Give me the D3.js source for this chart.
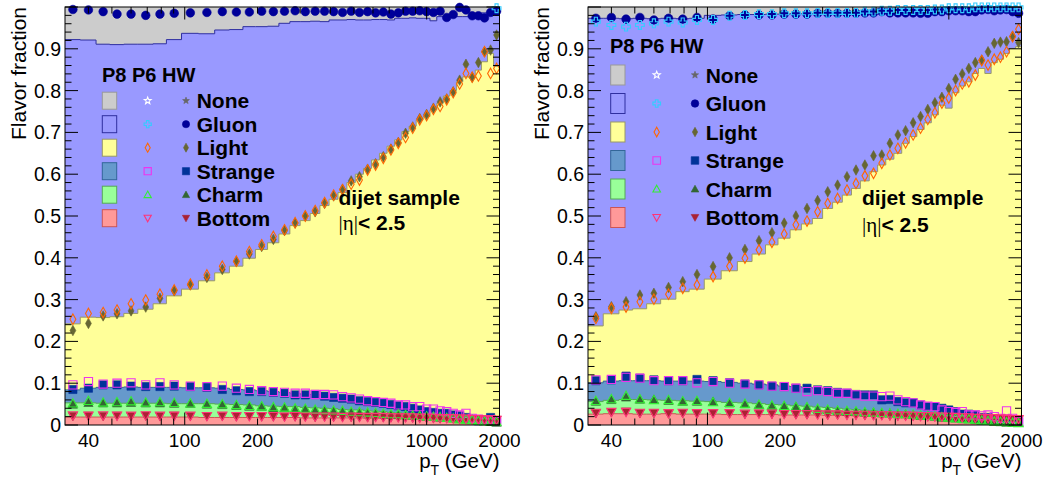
<!DOCTYPE html>
<html><head><meta charset="utf-8">
<script src="https://cdn.jsdelivr.net/npm/d3@7"></script>
<style>body{margin:0;background:#fff}svg{display:block}</style>
</head><body><svg id="chart" width="1051" height="477"></svg>
<script>
// pT bin edges (GeV)
const ptEdges = [32,37,43,49,56,64,74,84,97,114,133,153,174,196,220,245,272,300,330,362,395,430,468,507,548,592,638,686,737,790,846,905,967,1032,1101,1172,1248,1327,1410,1497,1588,1684,1784,1890,2000];
const yTickValues = [0,0.1,0.2,0.3,0.4,0.5,0.6,0.7,0.8,0.9];
const xTickLabels = [40,100,200,1000,2000];
const flavorNames = ["None","Gluon","Light","Strange","Charm","Bottom"];
const headerText = "P8 P6 HW";

// Cumulative flavour fractions, left sample. P8 = stacked histogram, P6/HW = markers.
const leftP8Gluon = [0.922,0.921,0.911,0.910,0.911,0.911,0.912,0.922,0.937,0.936,0.945,0.946,0.953,0.953,0.954,0.961,0.965,0.965,0.966,0.965,0.969,0.969,0.970,0.969,0.969,0.970,0.970,0.969,0.973,0.973,0.974,0.973,0.973,0.967,0.977,0.977,0.978,0.977,0.977,0.985,0.985,0.986,0.985,0.985];
const leftP8Light = [0.242,0.258,0.257,0.259,0.267,0.277,0.290,0.309,0.325,0.345,0.364,0.380,0.399,0.420,0.436,0.457,0.477,0.489,0.506,0.525,0.540,0.556,0.580,0.600,0.614,0.634,0.650,0.667,0.682,0.702,0.715,0.730,0.738,0.754,0.770,0.787,0.800,0.821,0.833,0.830,0.849,0.869,0.889,0.858];
const leftP8Strange = [0.084,0.088,0.090,0.090,0.091,0.090,0.090,0.090,0.089,0.089,0.088,0.085,0.084,0.082,0.080,0.078,0.076,0.074,0.073,0.070,0.068,0.065,0.063,0.061,0.058,0.056,0.053,0.051,0.048,0.046,0.042,0.040,0.037,0.034,0.031,0.029,0.026,0.023,0.020,0.018,0.015,0.013,0.010,0.009];
const leftP8Charm = [0.053,0.053,0.052,0.052,0.052,0.052,0.052,0.051,0.051,0.051,0.050,0.049,0.048,0.046,0.045,0.044,0.044,0.042,0.041,0.040,0.039,0.037,0.036,0.036,0.034,0.033,0.032,0.030,0.029,0.028,0.027,0.026,0.025,0.024,0.022,0.021,0.019,0.018,0.016,0.015,0.014,0.012,0.011,0.010];
const leftP8Bottom = [0.019,0.019,0.019,0.019,0.019,0.019,0.019,0.019,0.019,0.018,0.018,0.018,0.018,0.018,0.018,0.018,0.018,0.017,0.017,0.017,0.017,0.017,0.017,0.017,0.016,0.016,0.016,0.016,0.016,0.015,0.015,0.015,0.015,0.014,0.014,0.014,0.013,0.013,0.013,0.012,0.012,0.012,0.011,0.011];

const leftP6Gluon = [1,1,1,1,1,1,1,1,1,1,1,1,1,1,1,1,1,1,1,1,1,1,1,1,1,1,1,1,1,1,1,1,1,1,1,1,1,1,1,1,1,1,1,0.997];
const leftP6Light = [0.253,0.267,0.269,0.275,0.290,0.299,0.313,0.323,0.337,0.359,0.380,0.392,0.415,0.431,0.451,0.467,0.484,0.500,0.513,0.532,0.550,0.563,0.576,0.586,0.610,0.622,0.638,0.658,0.674,0.688,0.710,0.730,0.740,0.755,0.762,0.778,0.795,0.816,0.841,0.832,0.835,0.893,0.841,0.853];
const leftP6Strange = [0.096,0.104,0.098,0.100,0.101,0.096,0.101,0.096,0.093,0.092,0.093,0.088,0.085,0.082,0.080,0.078,0.076,0.076,0.073,0.073,0.072,0.068,0.065,0.062,0.058,0.056,0.054,0.052,0.048,0.048,0.044,0.044,0.038,0.038,0.034,0.032,0.028,0.024,0.028,0.016,0.014,0.012,0.012,0.008];
const leftP6Charm = [0.052,0.058,0.054,0.055,0.057,0.054,0.055,0.053,0.052,0.051,0.050,0.048,0.046,0.045,0.043,0.042,0.040,0.039,0.037,0.036,0.035,0.034,0.032,0.031,0.030,0.029,0.027,0.026,0.026,0.024,0.023,0.022,0.021,0.020,0.019,0.017,0.016,0.014,0.013,0.012,0.010,0.009,0.008,0.007];
const leftP6Bottom = [0.023,0.022,0.023,0.022,0.022,0.023,0.022,0.022,0.022,0.021,0.022,0.021,0.021,0.021,0.021,0.020,0.021,0.020,0.020,0.020,0.020,0.019,0.020,0.019,0.019,0.019,0.019,0.018,0.018,0.018,0.018,0.017,0.017,0.017,0.016,0.016,0.016,0.015,0.015,0.014,0.014,0.013,0.013,0.012];

const leftHWGluon = [0.994,0.993,0.989,0.983,0.983,0.980,0.983,0.985,0.986,0.987,0.989,0.988,0.988,0.990,0.989,0.990,0.991,0.989,0.990,0.990,0.989,0.987,0.990,0.987,0.989,0.986,0.988,0.983,0.986,0.990,0.990,0.991,0.989,0.987,0.990,0.975,0.982,0.999,0.993,0.979,0.979,0.974,0.987,0.990];
const leftHWLight = [0.226,0.243,0.261,0.266,0.273,0.282,0.303,0.321,0.335,0.353,0.372,0.391,0.409,0.427,0.444,0.465,0.483,0.500,0.510,0.530,0.548,0.564,0.584,0.594,0.612,0.625,0.642,0.660,0.676,0.698,0.713,0.733,0.743,0.758,0.773,0.780,0.797,0.825,0.863,0.832,0.867,0.893,0.897,0.933];
const leftHWStrange = [0.085,0.088,0.096,0.096,0.093,0.092,0.092,0.093,0.092,0.090,0.085,0.082,0.080,0.080,0.078,0.076,0.072,0.072,0.073,0.069,0.066,0.064,0.062,0.058,0.056,0.054,0.052,0.049,0.046,0.044,0.040,0.036,0.032,0.030,0.028,0.028,0.024,0.022,0.018,0.014,0.010,0.012,0.018,0.008];
const leftHWCharm = [0.049,0.053,0.052,0.052,0.053,0.052,0.052,0.051,0.051,0.049,0.048,0.046,0.044,0.044,0.040,0.041,0.036,0.038,0.034,0.034,0.032,0.032,0.030,0.030,0.028,0.028,0.026,0.025,0.024,0.024,0.022,0.022,0.020,0.020,0.018,0.018,0.016,0.015,0.014,0.012,0.010,0.010,0.008,0.006];
const leftHWBottom = [0.021,0.022,0.021,0.022,0.021,0.022,0.021,0.022,0.021,0.021,0.021,0.020,0.021,0.020,0.020,0.020,0.020,0.020,0.019,0.020,0.019,0.019,0.019,0.019,0.018,0.019,0.018,0.018,0.018,0.018,0.017,0.017,0.017,0.016,0.016,0.016,0.015,0.015,0.014,0.014,0.013,0.013,0.012,0.012];

// Cumulative flavour fractions, right sample.
const rightP8Gluon = [0.973,0.973,0.972,0.973,0.972,0.973,0.972,0.973,0.980,0.981,0.982,0.982,0.983,0.983,0.984,0.984,0.984,0.985,0.985,0.985,0.986,0.986,0.986,0.997,0.997,0.997,0.998,0.998,0.998,0.998,0.998,0.998,0.999,0.999,0.999,0.999,0.999,0.999,0.999,0.999,0.999,0.999,0.999,0.999];
const rightP8Light = [0.237,0.266,0.275,0.278,0.290,0.301,0.319,0.325,0.349,0.369,0.391,0.409,0.431,0.447,0.467,0.481,0.494,0.518,0.533,0.550,0.566,0.584,0.606,0.622,0.636,0.650,0.674,0.690,0.707,0.723,0.742,0.765,0.758,0.795,0.811,0.821,0.841,0.853,0.841,0.867,0.875,0.889,0.901,0.905];
const rightP8Strange = [0.101,0.105,0.106,0.106,0.106,0.105,0.105,0.105,0.104,0.102,0.100,0.098,0.096,0.093,0.092,0.090,0.088,0.085,0.083,0.080,0.077,0.076,0.073,0.069,0.066,0.064,0.061,0.057,0.054,0.051,0.048,0.044,0.041,0.038,0.034,0.031,0.028,0.025,0.022,0.019,0.017,0.014,0.012,0.010];
const rightP8Charm = [0.056,0.059,0.061,0.061,0.060,0.059,0.058,0.057,0.056,0.054,0.053,0.051,0.049,0.048,0.046,0.045,0.043,0.042,0.040,0.038,0.037,0.035,0.034,0.032,0.030,0.029,0.027,0.026,0.024,0.022,0.021,0.020,0.018,0.017,0.016,0.014,0.014,0.012,0.011,0.010,0.010,0.009,0.008,0.007];
const rightP8Bottom = [0.026,0.027,0.027,0.026,0.026,0.027,0.026,0.026,0.026,0.025,0.025,0.025,0.025,0.024,0.024,0.024,0.024,0.023,0.023,0.023,0.022,0.022,0.022,0.021,0.021,0.021,0.020,0.020,0.020,0.019,0.019,0.019,0.018,0.018,0.017,0.017,0.016,0.016,0.015,0.015,0.014,0.014,0.013,0.013];

const rightP6Gluon = [0.965,0.957,0.953,0.957,0.961,0.965,0.963,0.969,0.969,0.979,0.981,0.983,0.983,0.985,0.985,0.985,0.986,0.986,0.986,0.986,0.986,0.989,0.989,0.991,0.991,0.993,0.993,0.993,0.993,0.993,0.994,0.994,0.997,0.997,0.997,0.997,0.999,0.999,0.999,0.999,0.999,0.999,0.999,0.999];
const rightP6Light = [0.255,0.279,0.282,0.295,0.301,0.313,0.327,0.335,0.355,0.380,0.399,0.419,0.437,0.457,0.479,0.488,0.510,0.530,0.542,0.562,0.578,0.596,0.602,0.626,0.646,0.662,0.675,0.694,0.710,0.731,0.747,0.770,0.782,0.800,0.816,0.821,0.837,0.872,0.861,0.875,0.880,0.893,0.929,0.947];
const rightP6Strange = [0.108,0.109,0.114,0.112,0.106,0.106,0.106,0.101,0.104,0.100,0.098,0.096,0.093,0.092,0.088,0.080,0.082,0.080,0.076,0.076,0.072,0.069,0.069,0.068,0.069,0.060,0.056,0.053,0.048,0.045,0.044,0.036,0.032,0.030,0.032,0.024,0.024,0.022,0.024,0.020,0.016,0.034,0.016,0.008];
const rightP6Charm = [0.058,0.062,0.070,0.062,0.060,0.060,0.057,0.058,0.055,0.053,0.051,0.049,0.047,0.046,0.044,0.043,0.039,0.037,0.035,0.034,0.033,0.031,0.030,0.029,0.028,0.027,0.026,0.025,0.023,0.022,0.021,0.019,0.018,0.016,0.015,0.014,0.013,0.011,0.010,0.009,0.008,0.007,0.006,0.005];
const rightP6Bottom = [0.029,0.031,0.031,0.029,0.029,0.028,0.029,0.028,0.028,0.028,0.027,0.027,0.027,0.026,0.026,0.026,0.025,0.025,0.025,0.024,0.024,0.024,0.023,0.023,0.023,0.022,0.022,0.022,0.021,0.021,0.020,0.020,0.019,0.019,0.018,0.018,0.017,0.017,0.016,0.016,0.015,0.015,0.014,0.014];

const rightHWGluon = [0.973,0.975,0.971,0.975,0.969,0.973,0.971,0.975,0.971,0.979,0.981,0.981,0.981,0.983,0.983,0.983,0.985,0.985,0.985,0.985,0.985,0.986,0.986,0.989,0.986,0.986,0.986,0.986,0.985,0.985,0.989,0.989,0.991,0.991,0.991,0.989,0.989,0.993,0.994,0.991,0.993,0.994,0.989,0.985];
const rightHWLight = [0.259,0.283,0.295,0.311,0.315,0.329,0.343,0.360,0.379,0.400,0.420,0.441,0.460,0.483,0.500,0.518,0.537,0.558,0.574,0.594,0.610,0.622,0.644,0.646,0.674,0.694,0.704,0.723,0.738,0.755,0.771,0.784,0.805,0.827,0.840,0.853,0.867,0.873,0.893,0.913,0.916,0.917,0.930,0.915];
const rightHWStrange = [0.106,0.108,0.117,0.112,0.108,0.106,0.106,0.109,0.106,0.101,0.098,0.096,0.093,0.092,0.088,0.088,0.084,0.082,0.078,0.076,0.073,0.072,0.072,0.060,0.061,0.056,0.053,0.053,0.048,0.044,0.044,0.040,0.036,0.032,0.026,0.026,0.024,0.018,0.018,0.014,0.012,0.010,0.010,0.008];
const rightHWCharm = [0.056,0.060,0.066,0.061,0.061,0.058,0.056,0.056,0.056,0.052,0.050,0.048,0.045,0.045,0.044,0.042,0.037,0.036,0.034,0.032,0.032,0.030,0.030,0.028,0.028,0.026,0.026,0.024,0.022,0.022,0.020,0.018,0.017,0.016,0.014,0.014,0.012,0.010,0.010,0.008,0.007,0.006,0.006,0.006];
const rightHWBottom = [0.028,0.030,0.032,0.028,0.028,0.027,0.028,0.027,0.028,0.027,0.026,0.027,0.026,0.026,0.025,0.025,0.025,0.024,0.024,0.024,0.024,0.023,0.023,0.023,0.022,0.022,0.022,0.021,0.021,0.020,0.020,0.019,0.019,0.018,0.018,0.017,0.017,0.016,0.016,0.015,0.015,0.014,0.014,0.013];

// ---- styles ----
const SANS = "'Liberation Sans', Arial, Helvetica, sans-serif";
const SERIF = "'Liberation Serif', 'DejaVu Serif', serif";
const fillColors = {none:"#cccccc", gluon:"#9999ff", light:"#ffff99", strange:"#6699cc", charm:"#99ff99", bottom:"#ff9999"};
const lineColors = {none:"#999999", gluon:"#2f2f9f", light:"#999966", strange:"#336699", charm:"#55aa55", bottom:"#cc5555"};
const p6Style = {
  none:{shape:"star", color:"#ffffff"}, gluon:{shape:"cross", color:"#33ccff"}, light:{shape:"diamond", color:"#ff6600"},
  strange:{shape:"square", color:"#ee33ee"}, charm:{shape:"triUp", color:"#33ee33"}, bottom:{shape:"triDown", color:"#ff3377"}};
const hwStyle = {
  none:{shape:"star", color:"#666666"}, gluon:{shape:"circle", color:"#000099"}, light:{shape:"diamond", color:"#666633"},
  strange:{shape:"square", color:"#003399"}, charm:{shape:"triUp", color:"#336633"}, bottom:{shape:"triDown", color:"#aa2233"}};
const keys = ["none","gluon","light","strange","charm","bottom"];

function markerPath(shape, s) {
  switch (shape) {
    case "circle": return d3.symbol(d3.symbolCircle, Math.PI * s * s)();
    case "square": return `M${-s},${-s}H${s}V${s}H${-s}Z`;
    case "triUp": return `M0,${-s}L${s},${s*0.8}L${-s},${s*0.8}Z`;
    case "triDown": return `M0,${s}L${s},${-s*0.8}L${-s},${-s*0.8}Z`;
    case "diamond": return `M0,${-s*1.25}L${s*0.7},0L0,${s*1.25}L${-s*0.7},0Z`;
    case "cross": {
      const w = s * 0.35;
      return `M${-w},${-s}H${w}V${-w}H${s}V${w}H${w}V${s}H${-w}V${w}H${-s}V${-w}H${-w}Z`;
    }
    case "star": {
      const pts = [];
      for (let k = 0; k < 10; k++) {
        const r = k % 2 === 0 ? s : s * 0.42;
        const a = -Math.PI / 2 + k * Math.PI / 5;
        pts.push([r * Math.cos(a), r * Math.sin(a)]);
      }
      return "M" + pts.map(p => p[0].toFixed(2) + "," + p[1].toFixed(2)).join("L") + "Z";
    }
  }
}

function drawMarker(g, style, filled, x, y, s) {
  g.append("path").attr("d", markerPath(style.shape, s))
    .attr("transform", `translate(${x},${y})`)
    .attr("fill", filled ? style.color : "none")
    .attr("stroke", style.color)
    .attr("stroke-width", filled ? 0.6 : 1.1);
}

const svg = d3.select("#chart");

const panels = [
  {
    x0: 65, x1: 499.5, titleX: 26,
    p8: {gluon:leftP8Gluon, light:leftP8Light, strange:leftP8Strange, charm:leftP8Charm, bottom:leftP8Bottom},
    p6: {gluon:leftP6Gluon, light:leftP6Light, strange:leftP6Strange, charm:leftP6Charm, bottom:leftP6Bottom},
    hw: {gluon:leftHWGluon, light:leftHWLight, strange:leftHWStrange, charm:leftHWCharm, bottom:leftHWBottom},
    leg: {hx:102, hy:82, row0:100.7, dy:23.5, boxX:102.3, boxW:14.4, boxH:17, p6X:147.7, hwX:186, labX:196.7, labDy:7.5, ms:3.6},
    txt: {x:338.5, y1:205, y2:230}
  },
  {
    x0: 588, x1: 1021.5, titleX: 549,
    p8: {gluon:rightP8Gluon, light:rightP8Light, strange:rightP8Strange, charm:rightP8Charm, bottom:rightP8Bottom},
    p6: {gluon:rightP6Gluon, light:rightP6Light, strange:rightP6Strange, charm:rightP6Charm, bottom:rightP6Bottom},
    hw: {gluon:rightHWGluon, light:rightHWLight, strange:rightHWStrange, charm:rightHWCharm, bottom:rightHWBottom},
    leg: {hx:610, hy:53, row0:75, dy:28.5, boxX:610.7, boxW:14.3, boxH:20, p6X:656.7, hwX:695, labX:705.7, labDy:7.5, ms:3.8},
    txt: {x:862, y1:205, y2:232}
  }
];

const Y0 = 425, Y1 = 7;

panels.forEach((P, pi) => {
  const x = d3.scaleLog().domain([ptEdges[0], ptEdges[ptEdges.length - 1]]).range([P.x0, P.x1]);
  const y = d3.scaleLinear().domain([0, 1]).range([Y0, Y1]);
  const g = svg.append("g");
  const clipId = "clip" + pi;
  svg.append("clipPath").attr("id", clipId).append("rect")
    .attr("x", P.x0).attr("y", Y1).attr("width", P.x1 - P.x0).attr("height", Y0 - Y1);

  const stackG = g.append("g").attr("clip-path", `url(#${clipId})`);
  // topmost layer: unmatched jets fill everything up to 1
  stackG.append("rect").attr("x", x(ptEdges[0])).attr("y", y(1))
    .attr("width", x(ptEdges[ptEdges.length-1]) - x(ptEdges[0])).attr("height", y(0) - y(1))
    .attr("fill", fillColors.none);

  ["gluon","light","strange","charm","bottom"].forEach(k => {
    const vals = P.p8[k];
    const pts = [];
    vals.forEach((v, i) => { pts.push([x(ptEdges[i]), y(v)]); pts.push([x(ptEdges[i+1]), y(v)]); });
    const area = d3.area().x(d => d[0]).y0(y(0)).y1(d => d[1]);
    stackG.append("path").attr("d", area(pts)).attr("fill", fillColors[k]).attr("stroke", "none");
    stackG.append("path").attr("d", d3.line()(pts)).attr("fill", "none")
      .attr("stroke", lineColors[k]).attr("stroke-width", 1);
  });

  // markers: HW filled first, P6 open on top
  const mG = g.append("g");
  const centers = ptEdges.slice(0, -1).map((e, i) => (e + ptEdges[i+1]) / 2);
  const plotSize = {circle:4.3, square:4.1, diamond:4.2, triUp:4.6, triDown:4.6, cross:4.4, star:4.5};
  [["hw", hwStyle, true], ["p6", p6Style, false]].forEach(([gen, styles, filled]) => {
    ["gluon","light","strange","charm","bottom"].forEach(k => {
      P[gen][k].forEach((v, i) => {
        if (v >= 1) return;
        drawMarker(mG, styles[k], filled, x(centers[i]), y(v), plotSize[styles[k].shape]);
      });
    });
  });

  // frame
  g.append("rect").attr("x", P.x0).attr("y", Y1).attr("width", P.x1 - P.x0).attr("height", Y0 - Y1)
    .attr("fill", "none").attr("stroke", "#000").attr("stroke-width", 1);

  // y ticks (left and right edges)
  const tk = g.append("g").attr("stroke", "#000").attr("stroke-width", 1);
  d3.range(0, 51).forEach(k => {
    const yy = y(k * 0.02);
    const len = k % 5 === 0 ? 13 : 6.5;
    tk.append("line").attr("x1", P.x0).attr("x2", P.x0 + len).attr("y1", yy).attr("y2", yy);
    tk.append("line").attr("x1", P.x1 - len).attr("x2", P.x1).attr("y1", yy).attr("y2", yy);
  });
  // x ticks (bottom and top edges), log spacing
  const xt = [40,50,60,70,80,90,100,200,300,400,500,600,700,800,900,1000,2000];
  xt.forEach(t => {
    const xx = x(t);
    const len = (t === 100 || t === 1000) ? 12.5 : 6.5;
    tk.append("line").attr("x1", xx).attr("x2", xx).attr("y1", Y0).attr("y2", Y0 - len);
    tk.append("line").attr("x1", xx).attr("x2", xx).attr("y1", Y1).attr("y2", Y1 + len);
  });

  // tick labels
  yTickValues.forEach(v => {
    g.append("text").attr("x", P.x0 - 4).attr("y", y(v) + 7)
      .attr("text-anchor", "end").attr("font-family", SANS).attr("font-size", 19.5)
      .text(v === 0 ? "0" : v.toFixed(1));
  });
  xTickLabels.forEach(v => {
    g.append("text").attr("x", x(v)).attr("y", 446.5)
      .attr("text-anchor", "middle").attr("font-family", SANS).attr("font-size", 19)
      .text(v);
  });

  // axis titles
  g.append("text").attr("transform", `translate(${P.titleX},${Y1}) rotate(-90)`)
    .attr("text-anchor", "end").attr("font-family", SANS).attr("font-size", 21)
    .text("Flavor fraction");
  const xt2 = g.append("text").attr("x", P.x1).attr("y", 468).attr("text-anchor", "end")
    .attr("font-family", SANS).attr("font-size", 20.5);
  xt2.append("tspan").text("p");
  xt2.append("tspan").attr("dy", 7).attr("font-size", 14).text("T");
  xt2.append("tspan").attr("dy", -7).text(" (GeV)");

  // legend
  const L = P.leg;
  g.append("text").attr("x", L.hx).attr("y", L.hy).attr("font-family", SANS).attr("font-weight", "bold")
    .attr("font-size", 20).text(headerText);
  keys.forEach((k, r) => {
    const cy = L.row0 + r * L.dy;
    g.append("rect").attr("x", L.boxX).attr("y", cy - L.boxH / 2).attr("width", L.boxW).attr("height", L.boxH)
      .attr("fill", fillColors[k]).attr("stroke", lineColors[k]).attr("stroke-width", 1);
    drawMarker(g, p6Style[k], false, L.p6X, cy, L.ms);
    drawMarker(g, hwStyle[k], true, L.hwX, cy, L.ms);
    g.append("text").attr("x", L.labX).attr("y", cy + L.labDy).attr("font-family", SANS)
      .attr("font-weight", "bold").attr("font-size", 21).text(flavorNames[r]);
  });

  // sample description
  g.append("text").attr("x", P.txt.x).attr("y", P.txt.y1).attr("font-family", SANS)
    .attr("font-weight", "bold").attr("font-size", 21).text("dijet sample");
  const eta = g.append("text").attr("x", P.txt.x).attr("y", P.txt.y2).attr("font-size", 21).attr("fill", "#000");
  eta.append("tspan").attr("font-family", SERIF).text("|\u03B7|");
  eta.append("tspan").attr("font-family", SANS).attr("font-weight", "bold").text("< 2.5");
});
</script>
</body></html>
